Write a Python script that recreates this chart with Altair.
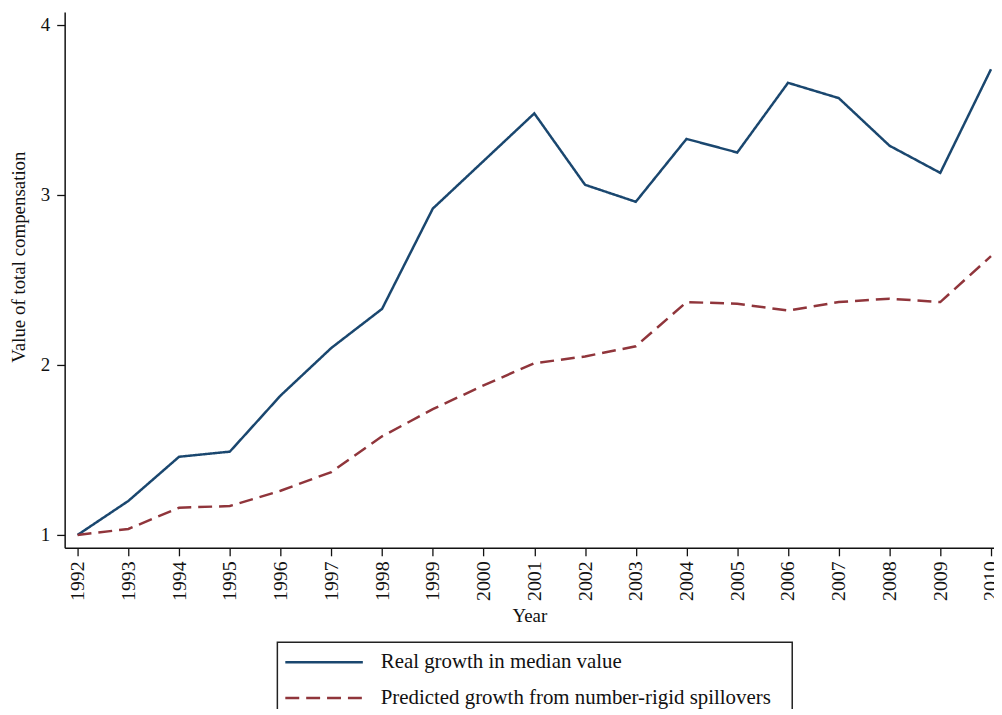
import altair as alt
import pandas as pd

years = list(range(1992, 2011))
real_growth = [1.00, 1.20, 1.46, 1.49, 1.82, 2.10, 2.33, 2.92, 3.20, 3.48,
               3.06, 2.96, 3.33, 3.25, 3.66, 3.57, 3.29, 3.13, 3.74]
pred_growth = [1.00, 1.035, 1.16, 1.17, 1.26, 1.37, 1.58, 1.74, 1.88, 2.01,
               2.05, 2.11, 2.37, 2.36, 2.32, 2.37, 2.39, 2.37, 2.64]
series_names = ["Real growth in median value",
                "Predicted growth from number-rigid spillovers"]
y_ticks = [1, 2, 3, 4]

BLUE = "#1a476f"
RED = "#90353b"
FONT = "Liberation Serif"

rows = []
for name, vals in zip(series_names, [real_growth, pred_growth]):
    for yr, v in zip(years, vals):
        rows.append({"Year": yr, "value": v, "series": name})
df = pd.DataFrame(rows)

lines = alt.Chart(df).mark_line(strokeWidth=2.5).encode(
    x=alt.X("Year:Q",
            scale=alt.Scale(domain=[1991.745, 2010.059], nice=False, zero=False),
            axis=alt.Axis(values=years, format="d", title="Year", labelAngle=-90,
                          labelFlush=False, labelOverlap=False, tickSize=8,
                          labelPadding=5, titlePadding=6, labelFontSize=20)),
    y=alt.Y("value:Q",
            scale=alt.Scale(domain=[0.924, 4.076], nice=False, zero=False),
            axis=alt.Axis(values=y_ticks, format="d", title="Value of total compensation",
                          tickSize=8, labelPadding=7, titlePadding=12, labelFlush=False,
                          titleY=246)),
    color=alt.Color("series:N", scale=alt.Scale(domain=series_names, range=[BLUE, RED]),
                    legend=None),
    strokeDash=alt.StrokeDash("series:N",
                              scale=alt.Scale(domain=series_names, range=[[1, 0], [14, 7]]),
                              legend=None),
    detail="series:N",
)

one = pd.DataFrame({"k": [0]})
box = alt.Chart(one).mark_rect(fill="white", fillOpacity=0, stroke="#222222",
                               strokeWidth=1.5).encode(
    x=alt.value(214), x2=alt.value(732), y=alt.value(634), y2=alt.value(780))

leg_layers = [box]
for i, (name, col, dash) in enumerate(zip(series_names, [BLUE, RED], [[1, 0], [14, 7]])):
    yy = 654 + 36 * i
    leg_layers.append(
        alt.Chart(one).mark_rule(color=col, strokeWidth=2.5, strokeDash=dash).encode(
            x=alt.value(222), x2=alt.value(300), y=alt.value(yy)))
    leg_layers.append(
        alt.Chart(pd.DataFrame({"label": [name]})).mark_text(
            align="left", baseline="middle", font=FONT, fontSize=21, color="#111111"
        ).encode(x=alt.value(318), y=alt.value(yy), text="label:N"))

chart = alt.layer(lines, *leg_layers).properties(
    width=935, height=539,
    autosize=alt.AutoSizeParams(type="none"),
    padding={"left": 57, "top": 2, "right": 0, "bottom": 160},
).configure_view(stroke=None).configure_axis(
    grid=False, domainColor="#111111", domainWidth=1.5, tickColor="#111111",
    tickWidth=1.3, labelFont=FONT, labelFontSize=19, labelColor="#111111",
    titleFont=FONT, titleFontSize=19, titleFontWeight="normal", titleColor="#111111",
)

chart.save("out.html", embed_options={"renderer": "svg", "actions": False})
